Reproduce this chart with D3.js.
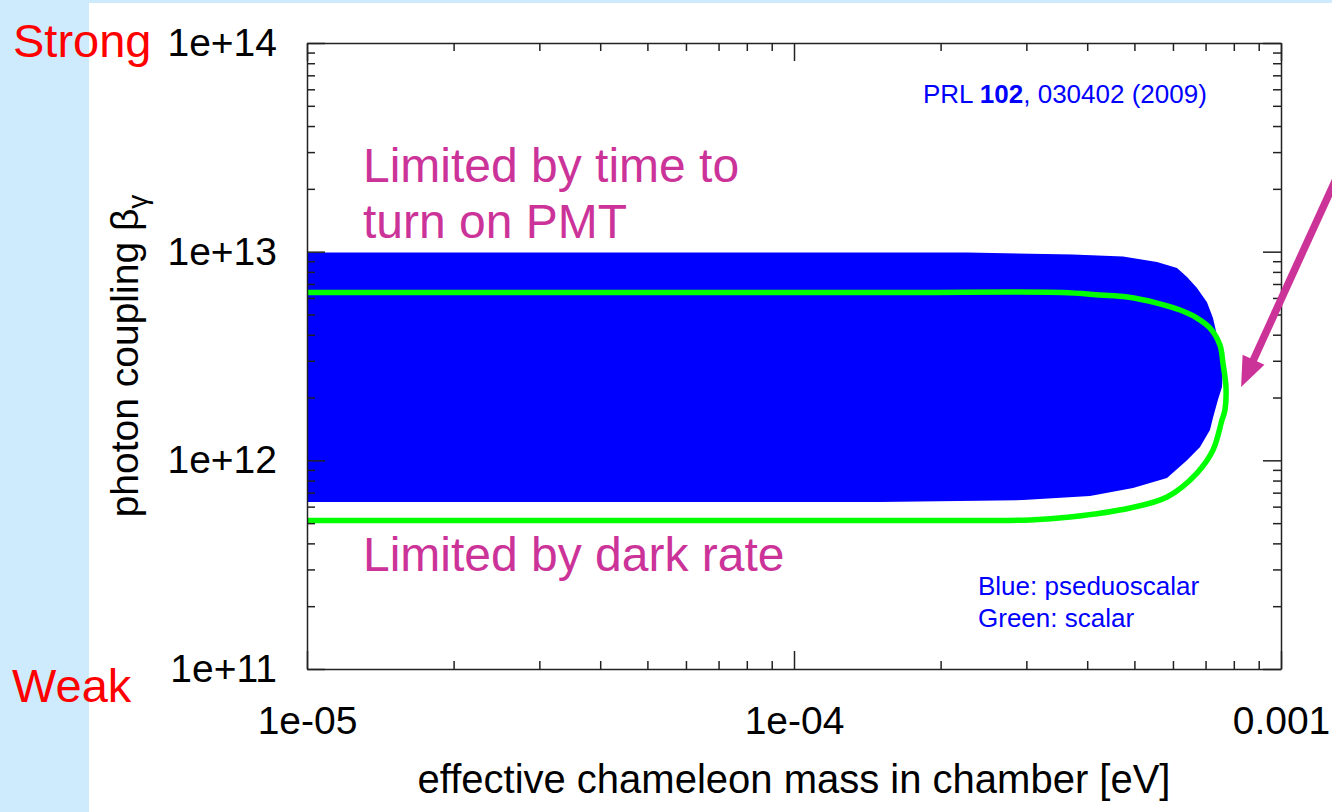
<!DOCTYPE html>
<html>
<head>
<meta charset="utf-8">
<script src="https://cdn.jsdelivr.net/npm/d3@7"></script>
<style>
  body { margin: 0; background: #cdebfd; }
  svg { display: block; font-family: "Liberation Sans", Arial, Helvetica, sans-serif; }
</style>
</head>
<body>
<div id="chart"></div>
<script>
// pseudoscalar excluded region (blue), clockwise from top-left
var pseudoMass = [1e-5, 2.265e-4, 3.741e-4, 4.738e-4, 5.564e-4, 6.115e-4, 6.412e-4, 6.722e-4, 7.047e-4,
  7.250e-4, 7.387e-4, 7.565e-4, 7.600e-4, 7.565e-4, 7.420e-4, 7.250e-4, 7.147e-4, 6.819e-4,
  6.412e-4, 5.833e-4, 4.967e-4, 4.053e-4, 2.953e-4, 1.502e-4, 1e-5];
var pseudoBeta = [9.92e12, 9.90e12, 9.69e12, 9.47e12, 8.92e12, 8.34e12, 7.56e12, 6.69e12, 5.73e12,
  4.81e12, 3.98e12, 3.38e12, 2.71e12, 2.245e12, 1.945e12, 1.600e12, 1.397e12, 1.158e12,
  1.00e12, 8.23e11, 7.37e11, 6.74e11, 6.45e11, 6.31e11, 6.31e11];

// scalar contour (green)
var scalarMass = [1e-5, 4.0e-5, 1.65e-4, 3.552e-4, 4.250e-4, 4.829e-4, 5.564e-4, 6.203e-4, 6.722e-4,
  7.147e-4, 7.492e-4, 7.600e-4, 7.709e-4, 7.672e-4, 7.565e-4, 7.250e-4, 6.722e-4, 5.833e-4,
  4.897e-4, 3.688e-4, 3.052e-4, 1.65e-4, 4.0e-5, 1e-5];
var scalarBeta = [6.368e12, 6.368e12, 6.368e12, 6.368e12, 6.194e12, 6.060e12, 5.672e12, 5.251e12, 4.807e12,
  4.305e12, 3.569e12, 2.926e12, 2.245e12, 1.742e12, 1.560e12, 1.120e12, 8.69e11, 6.67e11,
  5.91e11, 5.35e11, 5.18e11, 5.15e11, 5.15e11, 5.15e11];

var xMajor = [1e-5, 1e-4, 1e-3];
var xMajorLabels = ["1e-05", "1e-04", "0.001"];
var xMinor = [2e-5, 3e-5, 4e-5, 5e-5, 6e-5, 7e-5, 8e-5, 9e-5, 2e-4, 3e-4, 4e-4, 5e-4, 6e-4, 7e-4, 8e-4, 9e-4];
var yMajor = [1e11, 1e12, 1e13, 1e14];
var yMajorLabels = ["1e+11", "1e+12", "1e+13", "1e+14"];
var yMinor = [2e11, 3e11, 4e11, 5e11, 6e11, 7e11, 8e11, 9e11, 2e12, 3e12, 4e12, 5e12, 6e12, 7e12, 8e12, 9e12,
  2e13, 3e13, 4e13, 5e13, 6e13, 7e13, 8e13, 9e13];

var width = 1332, height = 812;
var plotLeft = 307, plotRight = 1281, plotTop = 43, plotBottom = 669;
var magenta = '#cc3399';

var svg = d3.select('#chart')
  .append('svg')
  .attr('width', width)
  .attr('height', height);

// white slide panel over the light blue background
svg.append('rect')
  .attr('x', 89).attr('y', 3)
  .attr('width', width - 89).attr('height', height - 3)
  .attr('fill', '#ffffff');

var x = d3.scaleLog().domain([1e-5, 1e-3]).range([plotLeft, plotRight]);
var y = d3.scaleLog().domain([1e11, 1e14]).range([plotBottom, plotTop]);

var line = d3.line()
  .x(function (d) { return x(d[0]); })
  .y(function (d) { return y(d[1]); });

svg.append('path')
  .attr('d', line(d3.zip(pseudoMass, pseudoBeta)) + 'Z')
  .attr('fill', '#0000ff');

svg.append('path')
  .attr('d', line.curve(d3.curveCatmullRom.alpha(0.5))(d3.zip(scalarMass, scalarBeta)))
  .attr('fill', 'none')
  .attr('stroke', '#00ff00')
  .attr('stroke-width', 5.5)
  .attr('stroke-linejoin', 'round');

// axes, ticks pointing inward on all four sides
function styleAxis(g) {
  g.selectAll('path, line').attr('stroke', '#222').attr('stroke-width', 1.5);
  g.selectAll('text').attr('fill', '#000').style('font-size', '39px')
    .style('font-family', '"Liberation Sans", Arial, sans-serif');
}
function minor(g) { g.select('.domain').remove(); }

svg.append('g').attr('transform', 'translate(0,' + plotBottom + ')')
  .call(d3.axisBottom(x).tickValues(xMajor).tickSize(-18).tickSizeOuter(0).tickPadding(37)
    .tickFormat(function (d, i) { return xMajorLabels[i]; }))
  .call(styleAxis);
svg.append('g').attr('transform', 'translate(0,' + plotBottom + ')')
  .call(d3.axisBottom(x).tickValues(xMinor).tickSize(-8).tickFormat(''))
  .call(minor).call(styleAxis);
svg.append('g').attr('transform', 'translate(0,' + plotTop + ')')
  .call(d3.axisTop(x).tickValues(xMajor).tickSize(-18).tickSizeOuter(0).tickFormat(''))
  .call(styleAxis);
svg.append('g').attr('transform', 'translate(0,' + plotTop + ')')
  .call(d3.axisTop(x).tickValues(xMinor).tickSize(-8).tickFormat(''))
  .call(minor).call(styleAxis);

svg.append('g').attr('transform', 'translate(' + plotLeft + ',0)')
  .call(d3.axisLeft(y).tickValues(yMajor).tickSize(-18).tickSizeOuter(0).tickPadding(30)
    .tickFormat(function (d, i) { return yMajorLabels[i]; }))
  .call(styleAxis);
svg.append('g').attr('transform', 'translate(' + plotLeft + ',0)')
  .call(d3.axisLeft(y).tickValues(yMinor).tickSize(-8).tickFormat(''))
  .call(minor).call(styleAxis);
svg.append('g').attr('transform', 'translate(' + plotRight + ',0)')
  .call(d3.axisRight(y).tickValues(yMajor).tickSize(-18).tickSizeOuter(0).tickFormat(''))
  .call(styleAxis);
svg.append('g').attr('transform', 'translate(' + plotRight + ',0)')
  .call(d3.axisRight(y).tickValues(yMinor).tickSize(-8).tickFormat(''))
  .call(minor).call(styleAxis);

// axis titles
svg.append('text')
  .attr('x', (plotLeft + plotRight) / 2).attr('y', 793)
  .attr('text-anchor', 'middle')
  .style('font-size', '40px')
  .text('effective chameleon mass in chamber [eV]');

var yt = svg.append('text')
  .attr('transform', 'translate(138,' + (plotTop + plotBottom) / 2 + ') rotate(-90)')
  .attr('text-anchor', 'middle')
  .style('font-size', '39px');
yt.append('tspan').text('photon coupling \u03b2');
yt.append('tspan').attr('dy', 9).style('font-size', '28px').text('\u03b3');

// Strong / Weak on the slide
svg.append('text').attr('x', 13).attr('y', 57).attr('fill', '#ff0000')
  .style('font-size', '47px').text('Strong');
svg.append('text').attr('x', 12).attr('y', 702).attr('fill', '#ff0000')
  .style('font-size', '47px').text('Weak');

// annotations
svg.append('text').attr('x', 363).attr('y', 182).attr('fill', magenta)
  .style('font-size', '48px').text('Limited by time to');
svg.append('text').attr('x', 363).attr('y', 238).attr('fill', magenta)
  .style('font-size', '48px').text('turn on PMT');
svg.append('text').attr('x', 363).attr('y', 571).attr('fill', magenta)
  .style('font-size', '48px').text('Limited by dark rate');

var prl = svg.append('text').attr('x', 923).attr('y', 103).attr('fill', '#0000ff')
  .style('font-size', '26px');
prl.append('tspan').text('PRL ');
prl.append('tspan').style('font-weight', 'bold').text('102');
prl.append('tspan').text(', 030402 (2009)');

svg.append('text').attr('x', 978).attr('y', 595).attr('fill', '#0000ff')
  .style('font-size', '26px').text('Blue: pseduoscalar');
svg.append('text').attr('x', 978).attr('y', 627).attr('fill', '#0000ff')
  .style('font-size', '26px').text('Green: scalar');

// arrow pointing at the scalar reach
var arrowTail = [1.40e-3, 3.3e13];
var arrowTip = [8.28e-4, 2.245e12];
var tx = x(arrowTail[0]), ty = y(arrowTail[1]);
var hx = x(arrowTip[0]), hy = y(arrowTip[1]);
var len = Math.hypot(hx - tx, hy - ty);
var ux = (hx - tx) / len, uy = (hy - ty) / len;
var headLen = 30, headHalf = 12;
var bx = hx - ux * headLen, by = hy - uy * headLen;
svg.append('line')
  .attr('x1', tx).attr('y1', ty)
  .attr('x2', bx + ux * 2).attr('y2', by + uy * 2)
  .attr('stroke', magenta).attr('stroke-width', 7.5);
svg.append('path')
  .attr('d', 'M' + hx + ',' + hy +
    'L' + (bx - uy * headHalf) + ',' + (by + ux * headHalf) +
    'L' + (bx + uy * headHalf) + ',' + (by - ux * headHalf) + 'Z')
  .attr('fill', magenta);
</script>
</body>
</html>
